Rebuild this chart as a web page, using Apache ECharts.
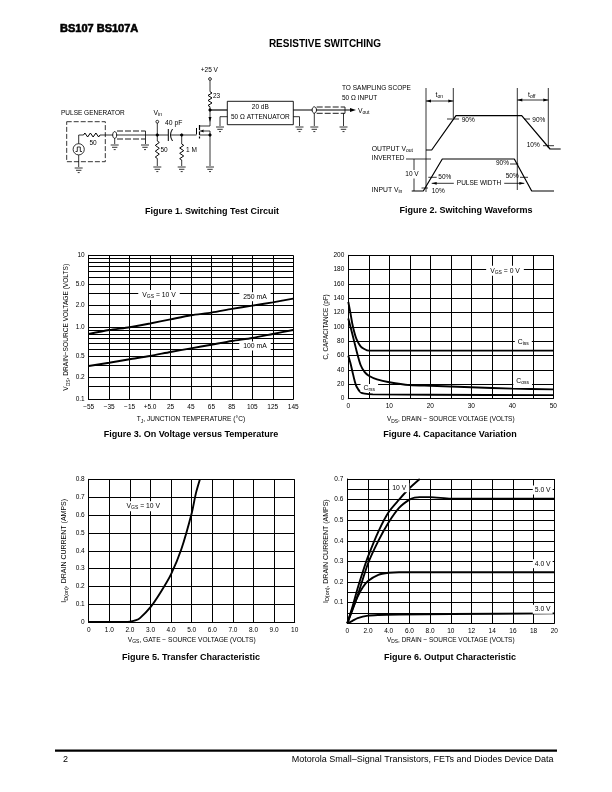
<!DOCTYPE html>
<html><head><meta charset="utf-8">
<style>html,body{margin:0;padding:0;background:#fff}#c{width:612px;height:792px}</style>
<script src="https://cdn.jsdelivr.net/npm/echarts@6/dist/echarts.min.js"></script>
</head><body><div id="c"></div>
<script>
// ---------- Figure 3 data
const f3X=[-55,-35,-15,5,25,45,65,85,105,125,145];
const f3XLabels=['−55','−35','−15','+5.0','25','45','65','85','105','125','145'];
const f3YGrid=[0.1,0.15,0.2,0.3,0.4,0.5,0.6,0.7,0.8,0.9,1,1.5,2,3,4,5,6,7,8,9,10];
const f3YLabelAt=[0.1,0.2,0.4,1,2,4,10];
const f3YLabels=['0.1','0.2','0.5','1.0','2.0','5.0','10'];
const f3_250=[0.807,0.917,1.0,1.13,1.29,1.47,1.6,1.8,2.0,2.22,2.5];
const f3_100=[0.29,0.322,0.36,0.4,0.454,0.51,0.573,0.645,0.71,0.807,0.917];
// ---------- Figure 4 data
const f4CissV=[0,0.5,1,1.5,2,3,4,5,7,20,50];
const f4Ciss=[135,120,104,92,83,73,69,67,67,67,67];
const f4CossV=[0,1,2,3,4,5,7,10,15,20,30,40,50];
const f4Coss=[112,90,67,47,37,32,27,23,19,18,16,14,13];
const f4CrssV=[0,0.5,1,1.5,2,3,4,6,20,50];
const f4Crss=[60,50,38,26,17,9,7,6,5.5,5];
// ---------- Figure 5 data
const f5V=[0,1,1.8,2,2.3,2.5,3,3.5,4,4.5,5,5.2,5.4];
const f5I=[0.002,0.002,0.002,0.004,0.012,0.025,0.085,0.17,0.27,0.41,0.61,0.72,0.8];
const f5XLabels=['0','1.0','2.0','3.0','4.0','5.0','6.0','7.0','8.0','9.0','10'];
const f5YLabels=['0','0.1','0.2','0.3','0.4','0.5','0.6','0.7','0.8'];
// ---------- Figure 6 data
const f6V10x=[0,0.5,1,1.5,2,3,4,5,6,7];
const f6V10=[0,0.08,0.17,0.25,0.323,0.445,0.54,0.6,0.655,0.7];
const f6V5x=[0,0.5,1,2,3,4,5,6,6.5,7,8,10,20];
const f6V5=[0,0.065,0.135,0.29,0.4,0.49,0.56,0.6,0.61,0.612,0.612,0.605,0.605];
const f6V4x=[0,0.5,1,1.5,2,3,4,5,20];
const f6V4=[0,0.07,0.13,0.175,0.205,0.235,0.245,0.248,0.248];
const f6V3x=[0,0.5,1,2,3,5,10,20];
const f6V3=[0,0.012,0.025,0.037,0.04,0.042,0.045,0.048];
const f6XLabels=['0','2.0','4.0','6.0','8.0','10','12','14','16','18','20'];
const f6YLabels=['0.1','0.2','0.3','0.4','0.5','0.6','0.7'];
// ---------- Figure 2 waveforms (time, level)
const wOutT=[26,31.7,56,121.7,150,160.7];
const wOutL=[50,50,84.3,84.3,51,51];
const wInT=[11.7,23.3,42.3,114.3,131.7,154];
const wInL=[9,9,41,41,9,9];

const F='"Liberation Sans",Arial,sans-serif';
const INK='#000';
const pairs=(a,b)=>a.map((x,i)=>[x,b[i]]);
function range(a,b,s){const r=[];for(let i=0;a+i*s<=b+1e-9;i++)r.push(+(a+i*s).toFixed(4));return r;}

function ax(type,min,max,grid,vals,labelVals,labels,name,gap,nameSize){
  const sz=nameSize||6.6;
  return {type,gridIndex:grid,min,max,
    nameLocation:'middle',name,nameGap:gap,
    nameTextStyle:{fontSize:sz,fontFamily:F,color:INK,rich:{
      n:{fontSize:sz,fontFamily:F,color:INK},
      s:{fontSize:sz-1.6,fontFamily:F,color:INK,padding:[4,0,0,0]}}},
    axisLine:{show:true,onZero:false,lineStyle:{color:INK,width:1}},
    axisTick:{show:false,customValues:vals},
    splitLine:{show:true,customValues:vals,lineStyle:{color:INK,width:1}},
    minorSplitLine:{show:false},
    axisLabel:{customValues:labelVals,fontSize:6.5,fontFamily:F,color:INK,margin:4,hideOverlap:false,showMinLabel:true,showMaxLabel:true,
      formatter:(v)=>{let k=labelVals.findIndex(t=>Math.abs(t-v)<1e-6*Math.max(1,Math.abs(t)));return k<0?'':labels[k];}}
  };
}
const hide=(g,min,max)=>({type:'value',gridIndex:g,min,max,show:false,splitLine:{show:false}});
const line=(g,d,w)=>({type:'line',xAxisIndex:g,yAxisIndex:g,data:d,showSymbol:false,symbol:'none',smooth:0.25,clip:true,
  lineStyle:{color:INK,width:w||1.9},z:3,silent:true});

// ---------- diagram drawing helpers (decorative schematic, not data)
const G=[];
const Z=20;
function pl(pts,w,dash){G.push({type:'polyline',z:Z,shape:{points:pts},style:{stroke:INK,fill:null,lineWidth:w||0.8,lineDash:dash||null}});}
function txt(x,y,t,o){o=o||{};
  G.push({type:'text',z:o.z||Z+1,x,y,style:Object.assign({text:t,fill:INK,fontSize:o.size||6.5,fontFamily:F,fontWeight:o.weight||'normal',
    align:o.align||'left',verticalAlign:'middle',rich:o.rich||undefined,
    backgroundColor:o.bg?'#fff':undefined,padding:o.bg?(o.pad||[1,2]):undefined},{})});}
function dot(x,y,r,open){G.push({type:'circle',z:Z,shape:{cx:x,cy:y,r},style:{fill:open?'#fff':INK,stroke:INK,lineWidth:0.8}});}
function ell(x,y,rx,ry){G.push({type:'ellipse',z:Z,shape:{cx:x,cy:y,rx,ry},style:{fill:'#fff',stroke:INK,lineWidth:0.9}});}
function gnd(x,y){pl([[x-4,y],[x+4,y]]);pl([[x-2.7,y+2.3],[x+2.7,y+2.3]]);pl([[x-1,y+4.6],[x+1,y+4.6]]);}
function zigV(x,y1,y2){const n=6,p=[[x,y1]],h=(y2-y1)/n;for(let i=0;i<n;i++)p.push([x+(i%2?-2:2),y1+h*(i+0.5)]);p.push([x,y2]);pl(p,1);}
function zigH(y,x1,x2){const n=6,p=[[x1,y]],h=(x2-x1)/n;for(let i=0;i<n;i++)p.push([x1+h*(i+0.5),y+(i%2?2:-2)]);p.push([x2,y]);pl(p,1);}
function arrow(x,y,dir,w){const l=w||4;G.push({type:'polygon',z:Z,shape:{points:[[x,y],[x-dir*l,y-1.4],[x-dir*l,y+1.4]]},style:{fill:INK}});}
function cap(){return {weight:'bold',size:9,align:'center'};}
const subRich=(f,s)=>({n:{fontSize:f,fontFamily:F,fill:INK,color:INK},s:{fontSize:s,fontFamily:F,color:INK,padding:[3,0,0,0]}});

// page furniture
txt(60,28.5,'BS107 BS107A',{weight:'900',size:11});
G[G.length-1].style.stroke=INK;G[G.length-1].style.lineWidth=0.6;
txt(325,44.5,'RESISTIVE SWITCHING',{weight:'bold',size:10,align:'center'});
txt(212,212,'Figure 1. Switching Test Circuit',cap());
txt(466,211,'Figure 2. Switching Waveforms',cap());
txt(191,435,'Figure 3. On Voltage versus Temperature',cap());
txt(450,435,'Figure 4. Capacitance Variation',cap());
txt(191,658,'Figure 5. Transfer Characteristic',cap());
txt(450,658,'Figure 6. Output Characteristic',cap());
pl([[55,750.7],[557,750.7]],2.2);
txt(63,759.5,'2',{size:9});
txt(553.5,759.5,'Motorola Small–Signal Transistors, FETs and Diodes Device Data',{size:9,align:'right'});

// chart annotations
const r7=subRich(6.8,5);
txt(159,295,'{n|V}{s|GS}{n| = 10 V}',{rich:r7,bg:1,align:'center',pad:[1,4]});
txt(255,296.7,'250 mA',{size:6.8,bg:1,align:'center',pad:[1,4]});
txt(255,346,'100 mA',{size:6.8,bg:1,align:'center',pad:[1,4]});
txt(505,270.7,'{n|V}{s|GS}{n| = 0 V}',{rich:r7,bg:1,align:'center',pad:[1,4]});
txt(523.3,341.7,'{n|C}{s|iss}',{rich:r7,bg:1,align:'center',pad:[1,3]});
txt(522.7,380.7,'{n|C}{s|oss}',{rich:r7,bg:1,align:'center',pad:[1,3]});
txt(369.3,388,'{n|C}{s|rss}',{rich:r7,bg:1,align:'center',pad:[0,3]});
txt(143.3,506.3,'{n|V}{s|GS}{n| = 10 V}',{rich:r7,bg:1,align:'center',pad:[1,4]});
txt(399.3,487.7,'10 V',{size:6.8,bg:1,align:'center',pad:[1,3]});
txt(542.7,490,'5.0 V',{size:6.8,bg:1,align:'center',pad:[1,2]});
txt(542.7,563.7,'4.0 V',{size:6.8,bg:1,align:'center',pad:[1,2]});
txt(542.7,609.3,'3.0 V',{size:6.8,bg:1,align:'center',pad:[1,2]});

// ---------- Figure 1 schematic
G.push({type:'rect',z:Z,shape:{x:66.7,y:121.7,width:38.6,height:40},style:{fill:null,stroke:INK,lineWidth:0.8,lineDash:[5,2]}});
txt(61,113.5,'PULSE GENERATOR',{size:6.5});
dot(78.7,149.3,5.6,true);
pl([[75.5,151.5],[77.3,151.5],[77.3,147],[80.3,147],[80.3,151.5],[82,151.5]],0.8);
pl([[78.7,143.7],[78.7,135],[83.5,135]]);zigH(135,83.5,100);txt(93,143,'50',{size:6.5,align:'center'});
pl([[100,135],[168.3,135]]);
ell(114.7,135,2,3.4);
pl([[117,131],[145.5,131]],0.9,[6,2]);pl([[117,139],[145.5,139]],0.9,[6,2]);pl([[145.5,131],[145.5,139]]);
pl([[114.7,138.4],[114.7,144]]);gnd(114.7,145);pl([[145.5,139],[145.5,144]]);gnd(145,145);
pl([[78.7,155],[78.7,167]]);gnd(78.7,168);
// Vin
dot(157.3,121.7,1.4,true);pl([[157.3,123],[157.3,141]]);dot(157.3,135,1.2);
txt(153.5,112.7,'{n|V}{s|in}',{rich:r7});
zigV(157.3,141,158.5);pl([[157.3,158.5],[157.3,166]]);gnd(157.3,167);txt(160.5,150.7,'50',{size:6.5});
// capacitor
pl([[168.3,129],[168.3,141]],1);pl([[172.5,129],[171,132],[170.5,135],[171,138],[172.5,141]],1);
pl([[171,135],[196.5,135]]);txt(165,123.3,'40 pF',{size:6.8});
dot(181.7,135,1.2);pl([[181.7,135],[181.7,144]]);zigV(181.7,144,160);pl([[181.7,160],[181.7,166]]);gnd(181.7,167);txt(186,150.7,'1 M',{size:6.5});
// MOSFET
pl([[196.5,134.5],[196.5,128]],1);pl([[199.5,125],[199.5,130]],1.2);pl([[199.5,131.5],[199.5,135]],1.2);pl([[199.5,136.5],[199.5,138.5]],1.2);
pl([[199.5,126],[210,126]]);pl([[199.5,135],[210,135]]);pl([[199.5,131],[210,131]]);
arrow(200.5,131,-1,3);
dot(210,135,1.2);pl([[210,131],[210,135]]);
// drain / source
dot(210,79,1.4,true);pl([[210,80.5],[210,91.7]]);zigV(210,91.7,106.7);pl([[210,106.7],[210,126]]);
dot(210,110,1.2);
G.push({type:'polygon',z:Z,shape:{points:[[210,122],[208.5,117],[211.5,117]]},style:{fill:INK}});
txt(209.3,70.7,'+25 V',{size:6.5,align:'center'});txt(213,96.7,'23',{size:6.5});
pl([[210,135],[210,166]]);gnd(210,167);
pl([[210,110],[227.3,110]],1.2);
// attenuator
G.push({type:'rect',z:Z,shape:{x:227.3,y:101.3,width:66,height:23.4},style:{fill:'#fff',stroke:INK,lineWidth:0.9}});
txt(260.3,107.5,'20 dB',{size:6.5,align:'center'});
txt(260.3,117.3,'50 Ω ATTENUATOR',{size:6.5,align:'center'});
pl([[227.3,116.7],[220,116.7],[220,126]]);gnd(220,127);
pl([[293.3,116.7],[299.5,116.7],[299.5,126]]);gnd(299.5,127);
pl([[293.3,110],[352,110]],1.2);
pl([[314.3,113],[314.3,126]]);gnd(314.3,127);pl([[343.5,113.3],[343.5,126]]);gnd(343.5,127);
ell(314.3,110,2.2,3.2);
pl([[316.7,107],[345,107]],0.9,[6,2]);pl([[316.7,113.3],[345,113.3]],0.9,[6,2]);pl([[345,107],[345,113.3]]);
G.push({type:'polygon',z:Z,shape:{points:[[356,110],[350,108],[350,112]]},style:{fill:INK}});
txt(342,88.5,'TO SAMPLING SCOPE',{size:6.5});txt(342,98.7,'50 Ω INPUT',{size:6.5});
txt(358,111,'{n|V}{s|out}',{rich:r7});

// ---------- Figure 2 annotations
pl([[426,88],[426,192]]);pl([[453.3,88],[453.3,118]]);pl([[517.3,88],[517.3,190]]);pl([[548.3,88],[548.3,148]]);
pl([[426,101],[453.3,101]]);arrow(426,101,-1,5);arrow(453.3,101,1,5);
pl([[517.3,100],[548.3,100]]);arrow(517.3,100,-1,5);arrow(548.3,100,1,5);
txt(439.3,95.5,'{n|t}{s|on}',{rich:r7,align:'center'});txt(531.7,95.5,'{n|t}{s|off}',{rich:r7,align:'center'});
pl([[447,119],[459,119]]);txt(461.7,120.7,'90%',{size:6.5});
pl([[524,119],[530,119]]);txt(532.3,120,'90%',{size:6.5});
txt(526.7,145.7,'10%',{size:6.5});pl([[543,145.7],[554,145.7]]);
txt(371.7,149,'{n|OUTPUT V}{s|out}',{rich:r7});txt(371.7,158.3,'INVERTED',{size:6.5});
txt(371.7,190,'{n|INPUT V}{s|in}',{rich:r7});
pl([[406,159],[431,159]]);pl([[414,159],[414,170]]);pl([[414,178.5],[414,191]]);txt(412,174.3,'10 V',{size:6.5,align:'center'});
pl([[428.3,177.3],[436.7,177.3]]);txt(438.3,177.3,'50%',{size:6.5});
pl([[421.5,188],[428,188]]);txt(431.7,191.7,'10%',{size:6.5});
pl([[431.7,183.3],[524.3,183.3]]);arrow(431.7,183.3,-1,5);arrow(524.3,183.3,1,5);
txt(479,183.3,'PULSE WIDTH',{size:6.5,bg:1,align:'center',pad:[0,3]});
txt(496,163.3,'90%',{size:6.5});pl([[510,164],[518.3,164]]);
txt(505.7,176.7,'50%',{size:6.5});pl([[520,177.3],[528,177.3]]);

const option={
  animation:false,backgroundColor:'#fff',textStyle:{fontFamily:F},
  grid:[
    {left:88.7,top:255.3,width:204.5,height:144},
    {left:348.3,top:255.3,width:205,height:143.4},
    {left:88.7,top:479.3,width:206,height:143},
    {left:347.3,top:479,width:207,height:144.3},
    {left:400,top:100,width:170,height:100}
  ],
  xAxis:[
    ax('value',-55,145,0,f3X,f3X,f3XLabels,'{n|T}{s|J}{n|, JUNCTION TEMPERATURE (°C)}',15.5,6.6),
    ax('value',0,50,1,range(0,50,5),range(0,50,10),['0','10','20','30','40','50'],'{n|V}{s|DS}{n|, DRAIN − SOURCE VOLTAGE (VOLTS)}',16,6.45),
    ax('value',0,10,2,range(0,10,1),range(0,10,1),f5XLabels,'{n|V}{s|GS}{n|, GATE − SOURCE VOLTAGE (VOLTS)}',13,6.6),
    ax('value',0,20,3,range(0,20,2),range(0,20,2),f6XLabels,'{n|V}{s|DS}{n|, DRAIN − SOURCE VOLTAGE (VOLTS)}',12,6.45),
    hide(4,0,170)
  ],
  yAxis:[
    ax('log',0.1,10,0,f3YGrid,f3YLabelAt,f3YLabels,'{n|V}{s|DS}{n|, DRAIN−SOURCE VOLTAGE (VOLTS)}',18,6.6),
    ax('value',0,200,1,range(0,200,20),range(0,200,20),range(0,200,20).map(String),'C, CAPACITANCE (pF)',19,6.3),
    ax('value',0,0.8,2,range(0,0.8,0.1),range(0,0.8,0.1),f5YLabels,'{n|I}{s|D(on)}{n|, DRAIN CURRENT (AMPS)}',20,7),
    ax('value',0,0.7,3,range(0,0.7,0.05),range(0.1,0.7,0.1),f6YLabels,'{n|I}{s|D(on)}{n|, DRAIN CURRENT (AMPS)}',16,7),
    hide(4,0,100)
  ],
  series:[
    line(0,pairs(f3X,f3_250)),line(0,pairs(f3X,f3_100)),
    line(1,pairs(f4CissV,f4Ciss)),line(1,pairs(f4CossV,f4Coss)),line(1,pairs(f4CrssV,f4Crss)),
    line(2,pairs(f5V,f5I)),
    line(3,pairs(f6V10x,f6V10)),line(3,pairs(f6V5x,f6V5)),line(3,pairs(f6V4x,f6V4)),line(3,pairs(f6V3x,f6V3)),
    Object.assign(line(4,pairs(wOutT,wOutL),1.2),{smooth:false}),
    Object.assign(line(4,pairs(wInT,wInL),1.2),{smooth:false})
  ],
  graphic:{elements:G}
};
const chart=echarts.init(document.getElementById('c'),null,{renderer:'canvas',width:612,height:792});
chart.setOption(option);
</script></body></html>
